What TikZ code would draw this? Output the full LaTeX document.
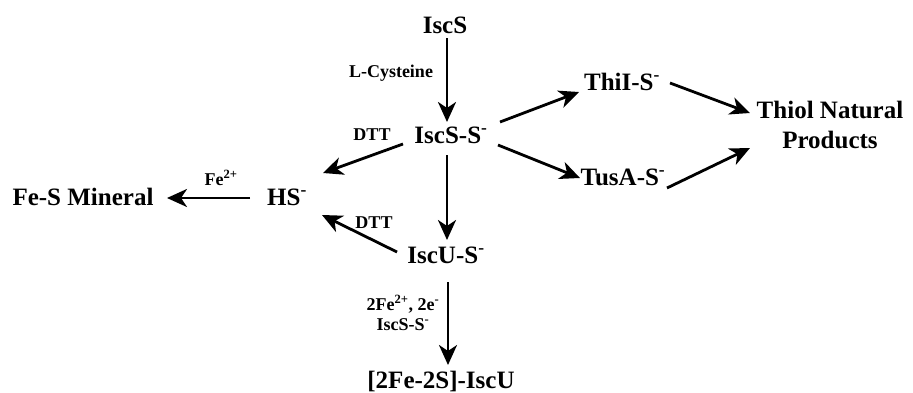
\documentclass[tikz,border=0pt]{standalone}
\usepackage{fontspec}
\setmainfont{Liberation Serif}
\usetikzlibrary{arrows.meta,calc}
\begin{document}
\begin{tikzpicture}[x=1pt,y=-1pt,
  lbl/.style={font=\fontsize{25}{28}\selectfont\bfseries, inner sep=0pt, anchor=base},
  sml/.style={font=\fontsize{18}{20}\selectfont\bfseries, inner sep=0pt, anchor=base},
  arr/.style={line width=2.8pt, -{Stealth[length=20pt,width=18pt,inset=6pt]}}]
\useasboundingbox (0,0) rectangle (913,392);
% main nodes
\node[lbl] (iscs)  at (445,33)  {IscS};
\node[lbl] (iscss) at (451,143) {IscS-S\textsuperscript{-}};
\node[lbl] (thil)  at (622,90)  {ThiI-S\textsuperscript{-}};
\node[lbl] (tusa)  at (623,185) {TusA-S\textsuperscript{-}};
\node[lbl, anchor=center, align=center] (thiol) at (830,125) {Thiol Natural\\[2pt]Products};
\node[lbl] (hs)    at (287,205) {HS\textsuperscript{-}};
\node[lbl] (fes)   at (83,205)  {Fe-S Mineral};
\node[lbl] (iscu)  at (446,263) {IscU-S\textsuperscript{-}};
\node[lbl] (fe2s)  at (441,388) {[2Fe-2S]-IscU};
% small labels
\node[sml] (lcys)  at (391,77)  {L-Cysteine};
\node[sml] (dtta)  at (372,140) {DTT};
\node[sml] (fe)    at (221,185) {Fe\textsuperscript{2+}};
\node[sml] (dttb)  at (374,228) {DTT};
\node[sml] (cond1) at (403,310) {2Fe\textsuperscript{2+}, 2e\textsuperscript{-}};
\node[sml] (cond2) at (403,330) {IscS-S\textsuperscript{-}};
% arrows
\draw[arr] ($(iscs.base)+(2,5)$) -- ($(iscss.base)+(-4,-21)$);
\draw[arr] ($(iscss.base)+(49,-21)$) -- ($(thil.base)+(-43,2)$);
\draw[arr] ($(thil.base)+(48,-7)$) -- ($(thiol.center)+(-80,-12)$);
\draw[arr] ($(iscss.base)+(47,2)$) -- ($(tusa.base)+(-43,-7)$);
\draw[arr] ($(tusa.base)+(44,3)$) -- ($(thiol.center)+(-80,23)$);
\draw[arr] ($(iscss.base)+(-48,1)$) -- ($(hs.base)+(36,-32)$);
\draw[arr] ($(iscss.base)+(-4,12)$) -- ($(iscu.base)+(1,-23)$);
\draw[arr] ($(iscu.base)+(-49,-11)$) -- ($(hs.base)+(35,10)$);
\draw[arr] ($(hs.base)+(-37,-7)$) -- ($(fes.base)+(84,-7)$);
\draw[arr] ($(iscu.base)+(2,19)$) -- ($(fe2s.base)+(7,-23)$);
\end{tikzpicture}
\end{document}
